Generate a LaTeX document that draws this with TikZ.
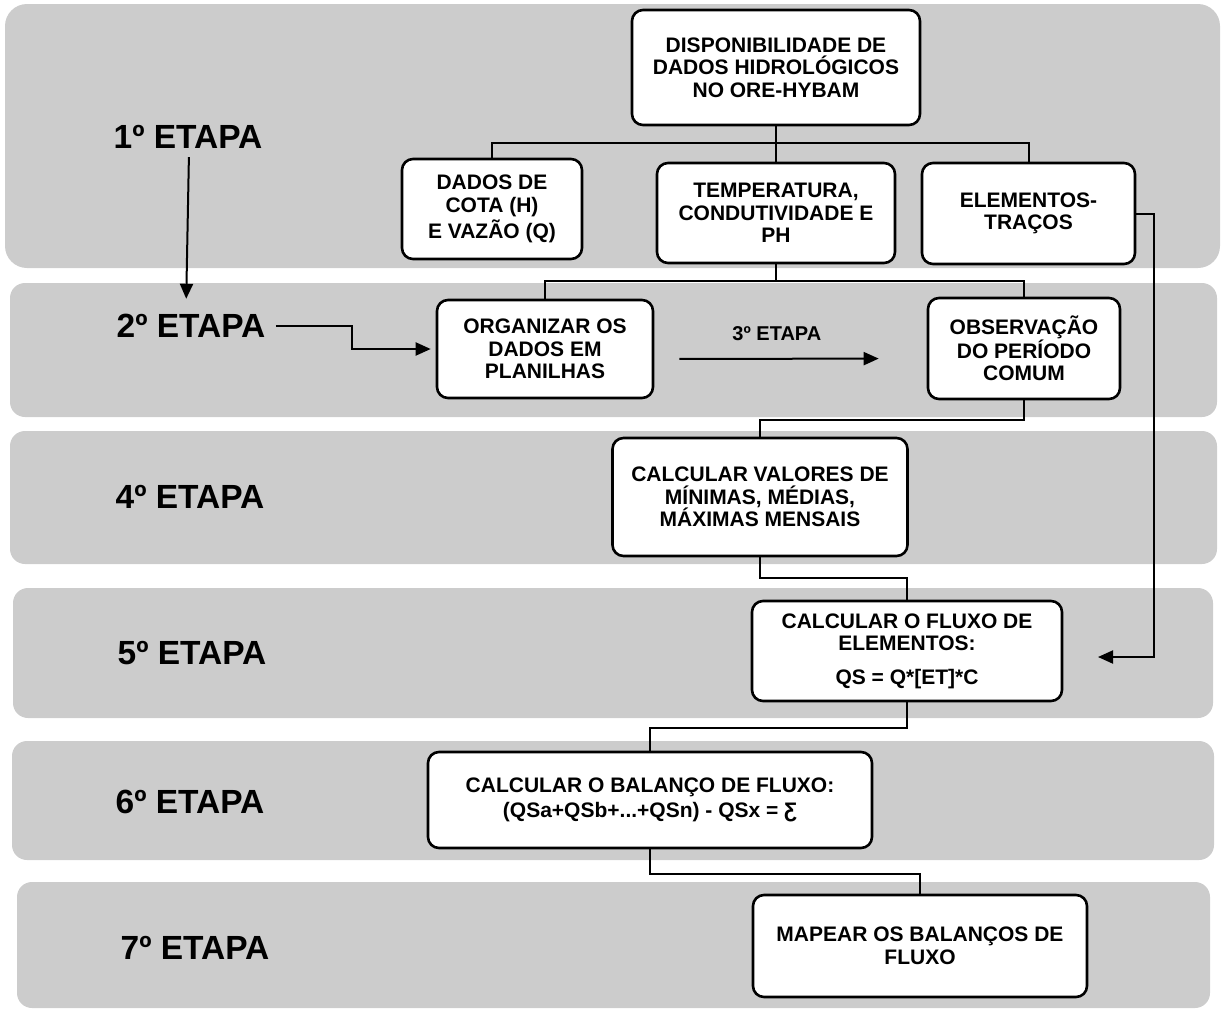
\documentclass[tikz,border=0pt]{standalone}
\usepackage{fontspec}
\setmainfont{Liberation Sans}
\definecolor{bandgray}{RGB}{204,204,204}
\usetikzlibrary{arrows.meta}

\begin{document}
\begin{tikzpicture}[
  x=1pt, y=-1pt,
  band/.style={fill=bandgray, rounded corners=15pt},
  box/.style={draw, line width=2.6pt, rounded corners=11pt, fill=white,
              align=center, inner sep=0pt,
              font=\fontsize{21}{22.5}\selectfont\bfseries},
  etapa/.style={font=\fontsize{33.5}{38}\selectfont\bfseries},
  lbl/.style={font=\fontsize{20}{22}\selectfont\bfseries},
  line/.style={line width=2pt},
  arrow/.style={line, -{Triangle[length=15pt, width=13pt]}},
]
\useasboundingbox (0,0) rectangle (1221,1009);

% --- grey bands, one per etapa ---
\fill[band, rounded corners=22pt] (5,4) rectangle (1220,268);
\fill[band] (10,283) rectangle (1217,417);
\fill[band] (10,431) rectangle (1217,564);
\fill[band] (13,588) rectangle (1213,718);
\fill[band] (12,741) rectangle (1214,860);
\fill[band] (17,882) rectangle (1210,1008);

% --- etapa labels ---
\node[etapa] (e1) at (188,137) {1º ETAPA};
\node[etapa] (e2) at (191,326) {2º ETAPA};
\node[etapa] (e4) at (190,497) {4º ETAPA};
\node[etapa] (e5) at (192,653) {5º ETAPA};
\node[etapa] (e6) at (190,802) {6º ETAPA};
\node[etapa] (e7) at (195,948) {7º ETAPA};

% --- boxes ---
\node[box, minimum width=288pt, minimum height=115pt] (disp) at (776,67.5)
  {DISPONIBILIDADE DE\\DADOS HIDROLÓGICOS\\NO ORE-HYBAM};
\node[box, minimum width=180pt, minimum height=100pt] (cota) at (492,209)
  {DADOS DE\\COTA (H)\\[2pt]E VAZÃO (Q)};
\node[box, minimum width=238pt, minimum height=100pt] (temp) at (776,213)
  {TEMPERATURA,\\CONDUTIVIDADE E\\PH};
\node[box, minimum width=213pt, minimum height=101pt] (elem) at (1028.5,213.5)
  {ELEMENTOS-\\TRAÇOS};
\node[box, minimum width=216pt, minimum height=98pt] (org) at (545,349)
  {ORGANIZAR OS\\DADOS EM\\PLANILHAS};
\node[box, minimum width=192pt, minimum height=101pt] (obs) at (1024,348.5)
  {OBSERVAÇÃO\\DO PERÍODO\\COMUM};
\node[box, minimum width=295pt, minimum height=118pt] (calc) at (760,497)
  {CALCULAR VALORES DE\\MÍNIMAS, MÉDIAS,\\MÁXIMAS MENSAIS};
\node[box, minimum width=310pt, minimum height=100pt] (flux) at (907,651)
  {CALCULAR O FLUXO DE\\ELEMENTOS:\\[11pt]QS = Q*[ET]*C};
\node[box, minimum width=444pt, minimum height=96pt] (bal) at (650,800)
  {CALCULAR O BALANÇO DE FLUXO:\\[3pt](QSa+QSb+...+QSn) - QSx = Ƹ};
\node[box, minimum width=334pt, minimum height=102pt] (map) at (920,946)
  {MAPEAR OS BALANÇOS DE\\FLUXO};

% --- tree connectors ---
\coordinate (bus1) at (776,143);
\coordinate (bus2) at (776,281);
\draw[line] (disp.south) -- (temp.north);
\draw[line] (cota.north) |- (bus1) -| (elem.north);
\draw[line] (temp.south) -- (bus2);
\draw[line] (org.north) |- (bus2) -| (obs.north);
\draw[line] (obs.south) -- ++(0,20) -| (calc.north);
\draw[line] (calc.south) -- ++(0,21) -| (flux.north);
\draw[line] (flux.south) -- ++(0,26) -| (bal.north);
\draw[line] (bal.south) -- ++(0,25) -| (map.north);

% --- arrows ---
\coordinate (fluxin) at (1098,657);
\draw[arrow] (elem.east) -- ++(18,0) |- (fluxin);
\draw[arrow, shorten <=5pt, shorten >=12pt] ([xshift=1pt]e1.south) -- ([xshift=-5pt]e2.north);
\draw[arrow, shorten >=5pt] ([xshift=7pt]e2.east) -- ++(76,0) |- (org.west);
\draw[arrow, shorten <=25pt, shorten >=48pt] ([yshift=-10pt]org.east) --
  node[lbl, pos=0.45, above=14pt] {3º ETAPA} ([yshift=-10pt]obs.west);

\end{tikzpicture}
\end{document}
